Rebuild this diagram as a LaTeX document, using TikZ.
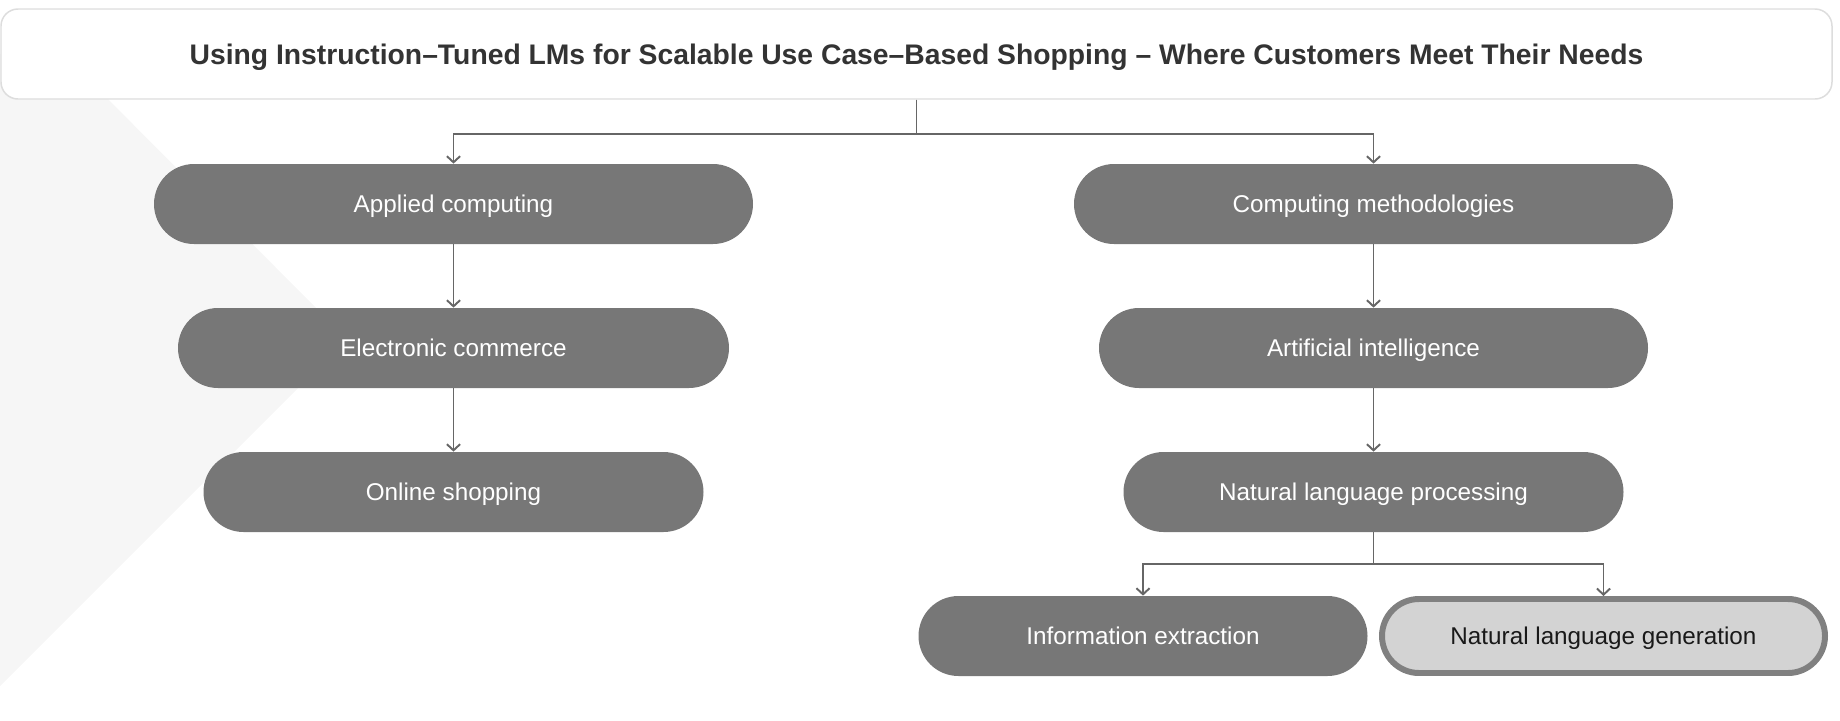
\documentclass[tikz,border=0pt]{standalone}
\usepackage{fontspec}
\setmainfont{Liberation Sans}
\usetikzlibrary{positioning, arrows.meta}
\definecolor{pillgray}{HTML}{777777}
\definecolor{linegray}{HTML}{666666}
\definecolor{framegray}{HTML}{DDDDDD}
\definecolor{shadegray}{HTML}{F6F6F6}
\definecolor{lightpill}{HTML}{D3D3D3}
\definecolor{edgegray}{HTML}{808080}
\definecolor{titletext}{HTML}{333333}
\tikzstyle{heading} = [rectangle,
rounded corners=0.34cm,
minimum width=36.62cm,
minimum height=1.8cm,
text centered,
text height=11.5pt, text depth=0pt,
draw=framegray, line width=0.85pt,
fill=white,
text=titletext,
font=\bfseries\fontsize{16.1pt}{19pt}\selectfont]
\tikzstyle{pill} = [rectangle,
rounded corners=0.8cm,
minimum height=1.6cm,
text centered,
text height=9.9pt, text depth=0pt,
fill=pillgray,
text=white,
font=\fontsize{13.8pt}{16pt}\selectfont]
\tikzstyle{pillhi} = [rectangle,
rounded corners=0.74cm,
minimum width=8.86cm,
minimum height=1.48cm,
text centered,
text height=9.9pt, text depth=0pt,
draw=edgegray, line width=3.4pt,
fill=lightpill,
text=black!90,
font=\fontsize{13.8pt}{16pt}\selectfont]
\tikzstyle{arrow} = [line width=1.1pt, draw=linegray, ->, >={Straight Barb[length=3.5pt,width=7.5pt]}]
\begin{document}
\begin{tikzpicture}[node distance=2.88cm]
\useasboundingbox (0,0) rectangle (36.8,-14.4);
% background shade
\fill [shadegray] (0,-1.08) -- (1.26,-1.08) -- (6.94,-6.78) -- (0,-13.72) -- cycle;

\node (title) [heading] at (18.33,-1.08) {Using Instruction–Tuned LMs for Scalable Use Case–Based Shopping – Where Customers Meet Their Needs};

\node (applied) [pill, minimum width=11.98cm] at (9.07,-4.08) {Applied computing};
\node (ecommerce) [pill, minimum width=11.02cm, below of=applied] {Electronic commerce};
\node (shopping) [pill, minimum width=10cm, below of=ecommerce] {Online shopping};

\node (methods) [pill, minimum width=11.98cm, right of=applied, xshift=15.52cm] {Computing methodologies};
\node (ai) [pill, minimum width=10.98cm, below of=methods] {Artificial intelligence};
\node (nlp) [pill, minimum width=10cm, below of=ai] {Natural language processing};

\node (extraction) [pill, minimum width=8.98cm, below of=nlp, xshift=-4.61cm] {Information extraction};
\node (generation) [pillhi, below of=nlp, xshift=4.6cm] {Natural language generation};

\draw [arrow] (title.south) -- ++(0,-0.68) -| (applied);
\draw [arrow] (title.south) -- ++(0,-0.68) -| (methods);
\draw [arrow] (applied) -- (ecommerce);
\draw [arrow] (ecommerce) -- (shopping);
\draw [arrow] (methods) -- (ai);
\draw [arrow] (ai) -- (nlp);
\draw [arrow] (nlp.south) -- ++(0,-0.64) -| (extraction);
\draw [arrow] (nlp.south) -- ++(0,-0.64) -| (generation);

\end{tikzpicture}
\end{document}
